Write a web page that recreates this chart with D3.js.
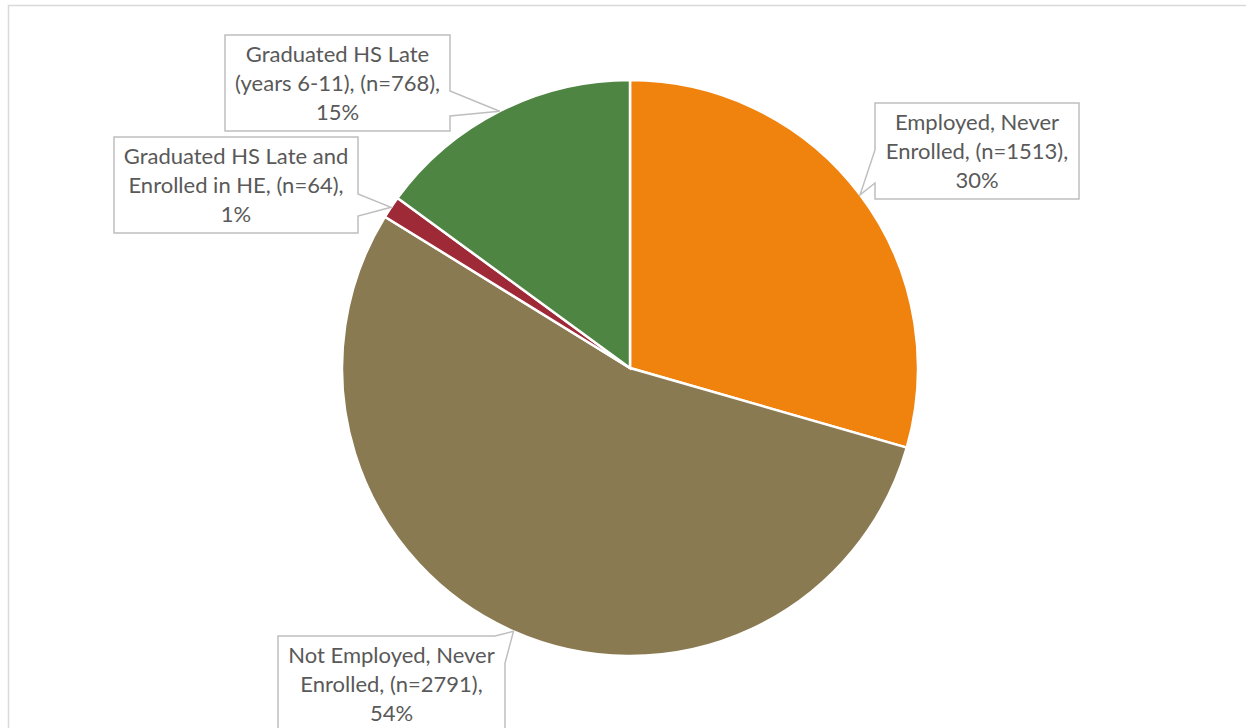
<!DOCTYPE html>
<html>
<head>
<meta charset="utf-8">
<script src="https://cdn.jsdelivr.net/npm/d3@7"></script>
<style>
  body { margin: 0; background: #fff; }
</style>
</head>
<body>
<div id="chart"></div>
<script>
// data
var categories = ["Employed, Never Enrolled", "Not Employed, Never Enrolled",
    "Graduated HS Late and Enrolled in HE", "Graduated HS Late (years 6-11)"];
var counts = [1513, 2791, 64, 768];
var percents = ["30%", "54%", "1%", "15%"];
var colors = ["#F0820E", "#8A7A52", "#9E2A37", "#4E8542"];
// label text, broken into lines as in the original
var labelLines = [
    ["Employed, Never", "Enrolled, (n=1513),", "30%"],
    ["Not Employed, Never", "Enrolled, (n=2791),", "54%"],
    ["Graduated HS Late and", "Enrolled in HE, (n=64),", "1%"],
    ["Graduated HS Late", "(years 6-11), (n=768),", "15%"]
];

var w = 1246;
var h = 728;
var cx = 630, cy = 368, r = 288;

// callout box layout (x, y, width, height, where the pointer leaves the box)
var boxes = [
    { x: 875, y: 103, w: 204, h: 96, side: "left", a: 47, b: 80 },
    { x: 278, y: 636, w: 227, h: 110, side: "topright", a: 217, b: 27 },
    { x: 114, y: 137, w: 244, h: 96, side: "right", a: 57, b: 79 },
    { x: 225, y: 35, w: 225, h: 96, side: "right", a: 56, b: 81 }
];

var svg = d3.select("#chart")
    .append("svg")
    .attr("width", w)
    .attr("height", h);

// chart area border
svg.append("rect")
    .attr("x", 8.5)
    .attr("y", 5.5)
    .attr("width", w + 20)
    .attr("height", h + 20)
    .attr("fill", "none")
    .attr("stroke", "#d9d9d9")
    .attr("stroke-width", 1.5);

var data = counts.map(function (c, i) {
    return { name: categories[i], value: c, pct: percents[i], color: colors[i], lines: labelLines[i], box: boxes[i] };
});

var pie = d3.pie()
    .sort(null)
    .value(function (d) { return d.value; });

var arc = d3.arc().innerRadius(0).outerRadius(r);
var edgeArc = d3.arc().innerRadius(r).outerRadius(r);

var arcs = pie(data);

var g = svg.append("g")
    .attr("transform", "translate(" + cx + "," + cy + ")");

g.selectAll("path")
    .data(arcs)
    .enter()
    .append("path")
    .attr("d", arc)
    .attr("fill", function (d) { return d.data.color; })
    .attr("stroke", "#fff")
    .attr("stroke-width", 2.5);

// builds the callout outline with its pointer
var calloutPath = function (b, tip) {
    var x = b.x, y = b.y, x2 = b.x + b.w, y2 = b.y + b.h;
    var p = d3.path();
    if (b.side == "right") {
        p.moveTo(x, y); p.lineTo(x2, y); p.lineTo(x2, y + b.a);
        p.lineTo(tip[0], tip[1]);
        p.lineTo(x2, y + b.b); p.lineTo(x2, y2); p.lineTo(x, y2);
    } else if (b.side == "left") {
        p.moveTo(x, y); p.lineTo(x2, y); p.lineTo(x2, y2); p.lineTo(x, y2);
        p.lineTo(x, y + b.b);
        p.lineTo(tip[0], tip[1]);
        p.lineTo(x, y + b.a);
    } else {
        p.moveTo(x, y); p.lineTo(x + b.a, y);
        p.lineTo(tip[0], tip[1]);
        p.lineTo(x2, y + b.b); p.lineTo(x2, y2); p.lineTo(x, y2);
    }
    p.closePath();
    return p.toString();
};

var labels = svg.selectAll("g.callout")
    .data(arcs)
    .enter()
    .append("g")
    .attr("class", "callout");

labels.append("path")
    .attr("d", function (d) {
        var c = edgeArc.centroid(d);
        return calloutPath(d.data.box, [c[0] + cx, c[1] + cy]);
    })
    .attr("fill", "#fff")
    .attr("stroke", "#bfbfbf")
    .attr("stroke-width", 1.5)
    .attr("stroke-linejoin", "miter");

labels.each(function (d) {
    var b = d.data.box;
    d3.select(this).selectAll("text")
        .data(d.data.lines)
        .enter()
        .append("text")
        .attr("x", b.x + b.w / 2)
        .attr("y", function (t, i) { return b.y + 27 + i * 29; })
        .attr("text-anchor", "middle")
        .attr("font-family", "Lato, sans-serif")
        .attr("font-size", "22px")
        .attr("fill", "#595959")
        .text(function (t) { return t; });
});
</script>
</body>
</html>
